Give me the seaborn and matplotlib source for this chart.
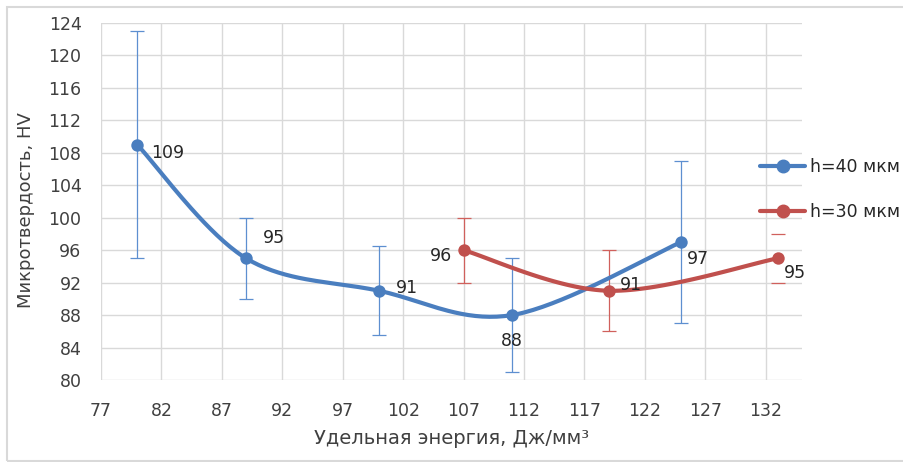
import numpy as np
import pandas as pd
import matplotlib
matplotlib.use("Agg")
import matplotlib.pyplot as plt
from matplotlib.lines import Line2D
from matplotlib.patches import Rectangle
import seaborn as sns

# Specific energy (J/mm^3) and microhardness (HV) with error half-widths
energy_40 = [80, 89, 100, 111, 125]
hv_40 = [109, 95, 91, 88, 97]
err_40 = [14, 5, 5.5, 7, 10]

energy_30 = [107, 119, 133]
hv_30 = [96, 91, 95]
err_30 = [4, 5, 3]

series_names = ["h=40 мкм", "h=30 мкм"]
x_ticks = [77, 82, 87, 92, 97, 102, 107, 112, 117, 122, 127, 132]
y_ticks = [80, 84, 88, 92, 96, 100, 104, 108, 112, 116, 120, 124]

BLUE = "#4a7ebf"
BLUE_ERR = "#5d8fd0"
RED = "#c0504d"
RED_ERR = "#d0605c"


def smooth(xs, ys, n=40):
    """Cubic Bezier smoothing through the points (spreadsheet-style)."""
    p = np.column_stack([xs, ys]).astype(float)
    ext = np.vstack([p[0], p, p[-1]])
    out = []
    t = np.linspace(0, 1, n)[:, None]
    for i in range(len(p) - 1):
        p0, p1, p2, p3 = ext[i], ext[i + 1], ext[i + 2], ext[i + 3]
        c1 = p1 + (p2 - p0) / 6
        c2 = p2 - (p3 - p1) / 6
        seg = ((1 - t) ** 3) * p1 + 3 * ((1 - t) ** 2) * t * c1 + 3 * (1 - t) * t ** 2 * c2 + t ** 3 * p2
        out.append(seg if i == 0 else seg[1:])
    out = np.vstack(out)
    return out[:, 0], out[:, 1]


sns.set_theme(style="whitegrid")
plt.rcParams["font.family"] = ["DejaVu Sans"]

fig = plt.figure(figsize=(9.04, 4.62), dpi=100)
ax = fig.add_axes([101 / 904, 1 - 380 / 462, (802 - 101) / 904, (380 - 23) / 462])

# smoothed curves
for xs, ys, name, col in [(energy_40, hv_40, series_names[0], BLUE),
                          (energy_30, hv_30, series_names[1], RED)]:
    sx, sy = smooth(xs, ys)
    curve = pd.DataFrame({"x": sx, "y": sy})
    sns.lineplot(data=curve, x="x", y="y", ax=ax, color=col, lw=3, sort=False,
                 estimator=None, zorder=3)

# error bars
ax.errorbar(energy_40, hv_40, yerr=err_40, fmt="none", ecolor=BLUE_ERR,
            elinewidth=0.9, capsize=5, capthick=0.9, zorder=2)
ax.errorbar(energy_30[:-1], hv_30[:-1], yerr=err_30[:-1], fmt="none", ecolor=RED_ERR,
            elinewidth=0.9, capsize=5, capthick=0.9, zorder=2)
ax.errorbar(energy_30[-1:], hv_30[-1:], yerr=err_30[-1:], fmt="none", ecolor=RED_ERR,
            elinewidth=0, capsize=5, capthick=0.9, zorder=2)

# markers
sns.scatterplot(x=energy_40, y=hv_40, ax=ax, color=BLUE, s=80, edgecolor=BLUE,
                linewidth=0, zorder=4)
sns.scatterplot(x=energy_30, y=hv_30, ax=ax, color=RED, s=80, edgecolor=RED,
                linewidth=0, zorder=4)

# value labels
label_fs = 12.5
offs_40 = [(10, -6, "left", "center"), (12, 8, "left", "bottom"), (12, 2, "left", "center"),
           (0, -12, "center", "top"), (4, -6, "left", "top")]
offs_30 = [(-8, -4, "right", "center"), (8, 4, "left", "center"), (4, -4, "left", "top")]
for xs, ys, offs in [(energy_40, hv_40, offs_40), (energy_30, hv_30, offs_30)]:
    for x, y, (dx, dy, ha, va) in zip(xs, ys, offs):
        ax.annotate(f"{y:g}", (x, y), xytext=(dx, dy), textcoords="offset points",
                    ha=ha, va=va, fontsize=label_fs, color="#262626", zorder=5)

ax.set_xlim(77, 135)
ax.set_ylim(80, 124)
ax.set_xticks(x_ticks)
ax.set_yticks(y_ticks)
ax.tick_params(axis="x", length=0, pad=16, labelsize=12.5, labelcolor="#404040")
ax.tick_params(axis="y", length=0, pad=14, labelsize=12.5, labelcolor="#404040")
ax.grid(True, color="#d9d9d9", lw=1)
for s in ax.spines.values():
    s.set_visible(False)
ax.set_xlabel("Удельная энергия, Дж/мм³", fontsize=14, color="#404040", labelpad=6)
ax.set_ylabel("Микротвердость, HV", fontsize=13, color="#404040")
ax.yaxis.set_label_coords(-66 / 701, (380 - 210) / 357)

handles = [Line2D([0], [0], color=BLUE, lw=3, marker="o", markersize=9),
           Line2D([0], [0], color=RED, lw=3, marker="o", markersize=9)]
fig.legend(handles, series_names, loc="center left",
           bbox_to_anchor=(760 / 904, 1 - 189.5 / 462), frameon=False,
           fontsize=12.5, handlelength=2.6, handletextpad=0.3, labelspacing=1.6,
           borderpad=0, borderaxespad=0)

# outer chart frame
fig.patches.append(Rectangle((7 / 904, 1 / 462), 1.5, 1 - 8 / 462, transform=fig.transFigure,
                             fill=False, edgecolor="#d9d9d9", lw=1.5))

fig.savefig("out.png", dpi=100)
